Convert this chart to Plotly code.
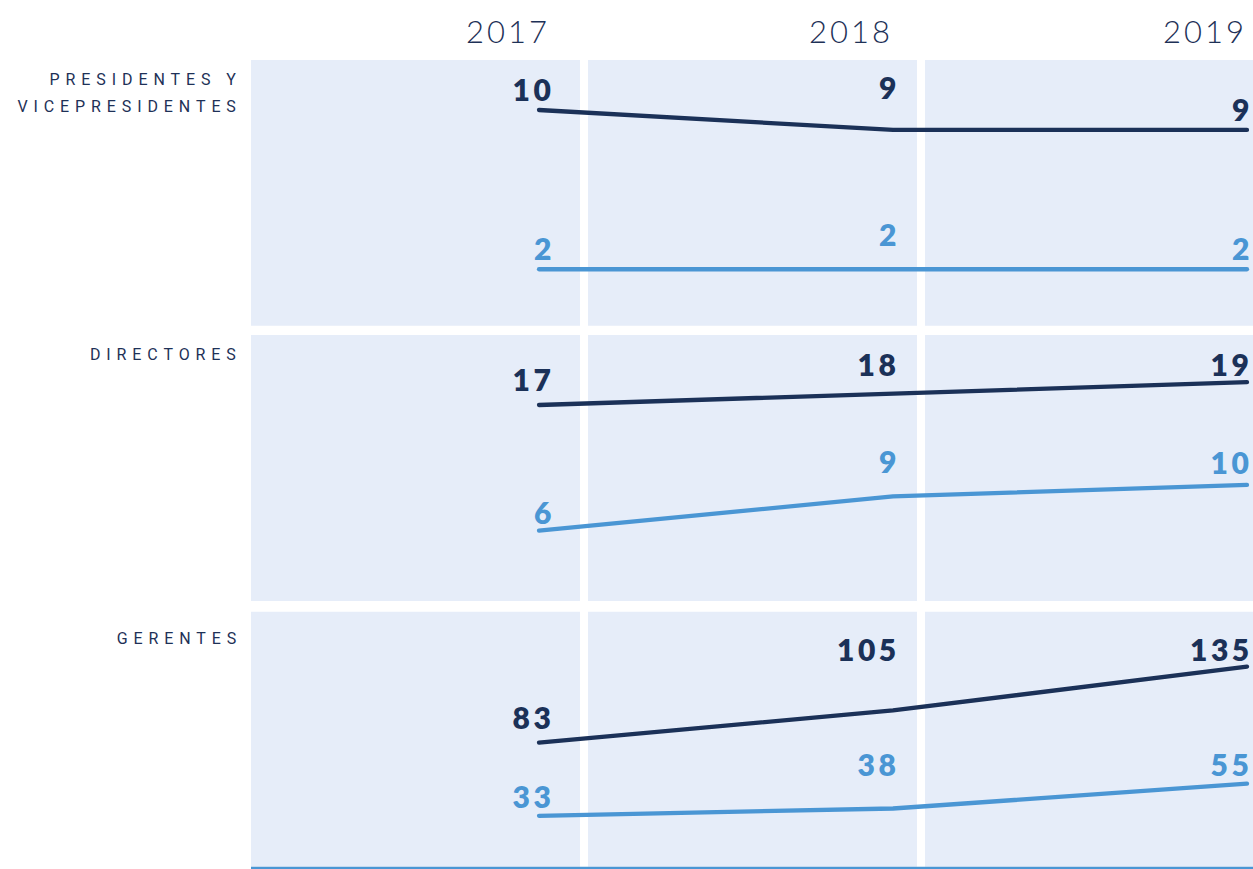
import json
import plotly.graph_objects as go

# ---------------- data ----------------
years = [2017, 2018, 2019]
year_labels = ["2017", "2018", "2019"]
category_lines = [["PRESIDENTES Y", "VICEPRESIDENTES"], ["DIRECTORES"], ["GERENTES"]]

dark_presidentes = [10, 9, 9]
light_presidentes = [2, 2, 2]
dark_directores = [17, 18, 19]
light_directores = [6, 9, 10]
dark_gerentes = [83, 105, 135]
light_gerentes = [33, 38, 55]

# ---------------- styles / layout ----------------
FIG_W, FIG_H = 1253, 869
DARK = "#1b3158"
LIGHT = "#4a96d4"
PANEL = "#e6edf9"
TEXT = "#1e3157"

col_px = [(251, 580), (588, 917), (925, 1253)]
row_px = [(60, 325.7), (335, 601), (611.7, 866.7)]
y_ranges = [[-0.834, 12.511], [-0.16, 23.13], [-1.76, 172.49]]
x_range = [2016.1864, 2019.01695]

# label offsets (pixels) above each point, per row, per year
dy_dark = [[20.5, 42.4, 20.4], [26.5, 29.6, 18.1], [25.7, 61.0, 17.1]]
dy_light = [[20.8, 34.8, 21.3], [19.1, 35.3, 22.9], [19.8, 44.5, 19.6]]
dx_label = [13, 4, 2.5]
dx_year = [9, -2, -2]

LS_ROW, LS_YEAR, LS_VAL = 5.9, 3.0, 3.5


def px_x(p):
    return p / FIG_W


def px_y(p):
    return 1 - p / FIG_H


rows = [
    (dark_presidentes, light_presidentes),
    (dark_directores, light_directores),
    (dark_gerentes, light_gerentes),
]

fig = go.Figure()
annotations = []
letter_spacing = []

for r, (dark_vals, light_vals) in enumerate(rows):
    sfx = "" if r == 0 else str(r + 1)
    for vals, color, dys in ((light_vals, LIGHT, dy_light[r]), (dark_vals, DARK, dy_dark[r])):
        fig.add_trace(go.Scatter(
            x=years, y=vals, mode="lines",
            line=dict(color=color, width=4.3),
            xaxis="x" + sfx, yaxis="y" + sfx,
            hoverinfo="skip", showlegend=False,
        ))
        for i, (yr, v) in enumerate(zip(years, vals)):
            annotations.append(dict(
                x=yr, y=v, xref="x" + sfx, yref="y" + sfx,
                text=str(v), showarrow=False,
                xanchor="right", yanchor="middle",
                xshift=dx_label[i], yshift=dys[i], borderpad=0,
                font=dict(family="Lato", size=30, color=color, weight=800),
            ))
            letter_spacing.append(LS_VAL)

# row labels
row_label_centers = [[79, 106], [354], [638]]
for lines, centers in zip(category_lines, row_label_centers):
    for txt, cy in zip(lines, centers):
        annotations.append(dict(
            x=px_x(237), y=px_y(cy), xref="paper", yref="paper",
            text=txt, showarrow=False, xanchor="right", yanchor="middle",
            borderpad=0,
            font=dict(family="Roboto", size=16, color=TEXT, weight=400),
        ))
        letter_spacing.append(LS_ROW)

# year labels
for i, (yr, lab) in enumerate(zip(years, year_labels)):
    annotations.append(dict(
        x=yr, y=px_y(31), xref="x", yref="paper",
        text=lab, showarrow=False, xanchor="right", yanchor="middle",
        xshift=dx_year[i], borderpad=0,
        font=dict(family="Lato", size=31, color=TEXT, weight=300),
    ))
    letter_spacing.append(LS_YEAR)

# panel backgrounds
shapes = []
for (y0, y1) in row_px:
    for (x0, x1) in col_px:
        shapes.append(dict(
            type="rect", xref="paper", yref="paper",
            x0=px_x(x0), x1=px_x(x1), y0=px_y(y1), y1=px_y(y0),
            fillcolor=PANEL, line=dict(width=0), layer="below",
        ))
shapes.append(dict(
    type="line", xref="paper", yref="paper",
    x0=px_x(251), x1=1, y0=px_y(867.9), y1=px_y(867.9),
    line=dict(color=LIGHT, width=2.3), layer="above",
))

layout = dict(
    width=FIG_W, height=FIG_H,
    margin=dict(l=0, r=0, t=0, b=0),
    paper_bgcolor="white", plot_bgcolor="rgba(0,0,0,0)",
    annotations=annotations, shapes=shapes,
    showlegend=False,
)
for r in range(3):
    sfx = "" if r == 0 else str(r + 1)
    y0, y1 = row_px[r]
    layout["xaxis" + sfx] = dict(
        domain=[px_x(251), 1], range=x_range, visible=False, fixedrange=True,
        anchor="y" + sfx,
    )
    layout["yaxis" + sfx] = dict(
        domain=[px_y(y1), px_y(y0)], range=y_ranges[r], visible=False,
        fixedrange=True, anchor="x" + sfx,
    )
fig.update_layout(**layout)

post_script = """
document.body.style.margin = '0';
document.body.style.overflow = 'hidden';
var gd = document.getElementById('{plot_id}');
var LS = %s;
function applyLS(){
  gd.querySelectorAll('g.annotation').forEach(function(g){
    var i = +g.getAttribute('data-index');
    var ls = LS[i];
    if(!ls) return;
    var t = g.querySelector('text.annotation-text');
    if(!t || t.getAttribute('data-ls')) return;
    var bb = t.getBBox();
    var right = bb.x + bb.width;
    t.setAttribute('text-anchor','end');
    t.style.letterSpacing = ls + 'px';
    t.setAttribute('x', right + ls);
    t.querySelectorAll('tspan.line').forEach(function(s){ s.setAttribute('x', right + ls); });
    t.setAttribute('data-ls','1');
  });
  gd.querySelectorAll('.scatterlayer path.js-line').forEach(function(p){
    p.style.strokeLinecap = 'round';
    p.style.strokeLinejoin = 'round';
  });
}
applyLS();
""" % json.dumps(letter_spacing)

fig.write_html("out.html", post_script=post_script, config={"displayModeBar": False})
